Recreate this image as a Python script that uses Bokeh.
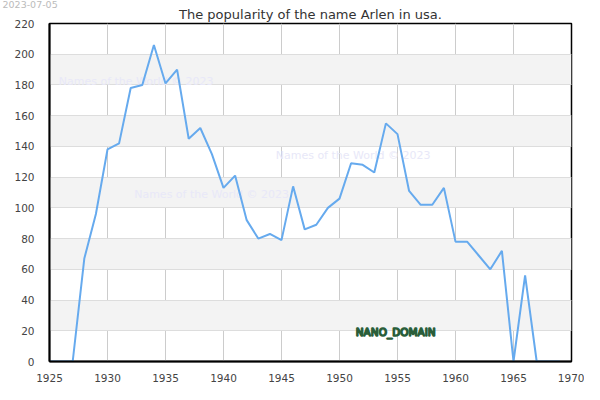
from bokeh.plotting import figure
from bokeh.models import Range1d, FixedTicker, Label, ColumnDataSource, Title
from bokeh.core.properties import value
from bokeh.embed import file_html
from bokeh.resources import INLINE

years = list(range(1925, 1970))
counts = [0, 0, 0, 67, 96, 138, 142, 178, 180, 206,
          181, 190, 145, 152, 135, 113, 121, 92, 80, 83,
          79, 114, 86, 89, 100, 106, 129, 128, 123, 155,
          148, 111, 102, 102, 113, 78, 78, 69, 60, 72,
          0, 56, 0, 0, 0]
x_ticks = [1925, 1930, 1935, 1940, 1945, 1950, 1955, 1960, 1965, 1970]
y_ticks = [0, 20, 40, 60, 80, 100, 120, 140, 160, 180, 200, 220]
title_text = "The popularity of the name Arlen in usa."
date_text = "2023-07-05"
watermark = "Names of the World © 2023"
wm_x = [1925.8, 1944.5, 1932.3]
wm_y = [182, 134, 109]
domain_text = "NANO_DOMAIN"

FONT = "DejaVu Sans"
BL, BR, BT, BB = 49, 13, 23, 20
W, H = 584, 384

p = figure(width=W, height=H, output_backend="svg", toolbar_location=None,
           x_range=Range1d(1925, 1970), y_range=Range1d(0, 220),
           min_border_left=BL, min_border_right=BR, min_border_top=BT, min_border_bottom=BB)
p.background_fill_color = "white"
p.border_fill_color = "white"
p.outline_line_color = "black"
p.outline_line_width = 1.5

p.add_layout(Title(text=title_text, text_font=FONT, text_font_size="13px",
                   text_font_style="normal", text_color="#333333",
                   align="center", offset=-11, standoff=4), "above")
p.add_layout(Title(text=date_text, text_font=FONT, text_font_size="9.5px",
                   text_font_style="normal", text_color="#bbbbbb",
                   align="left", offset=-47, standoff=-10), "above")

for ax in (p.xaxis[0], p.yaxis[0]):
    ax.major_tick_line_color = None
    ax.minor_tick_line_color = None
    ax.axis_line_color = "black"
    ax.axis_line_width = 2
    ax.major_label_text_font = FONT
    ax.major_label_text_font_size = "10.5px"
    ax.major_label_text_color = "#444444"
p.xaxis[0].ticker = FixedTicker(ticks=x_ticks)
p.yaxis[0].ticker = FixedTicker(ticks=y_ticks)
p.xaxis[0].major_label_standoff = 6
p.yaxis[0].major_label_standoff = 9

p.xgrid.ticker = FixedTicker(ticks=x_ticks)
p.ygrid.ticker = FixedTicker(ticks=y_ticks)
p.xgrid.grid_line_color = "#cccccc"
p.ygrid.grid_line_color = "#dddddd"
p.ygrid.band_fill_color = "#f3f3f3"
p.ygrid.band_fill_alpha = 1.0

# watermarks
wm_src = ColumnDataSource(dict(x=wm_x, y=wm_y, t=[watermark] * len(wm_x)))
p.text(x="x", y="y", text="t", source=wm_src, text_font=value(FONT),
       text_font_size="11px", text_color="#e8e8f8", text_baseline="middle")

src = ColumnDataSource(dict(x=years, y=counts))
p.line(x="x", y="y", source=src, line_color="#66aaee", line_width=2)

p.add_layout(Label(x=1951.4, y=19, text=domain_text, text_font=FONT,
                   text_font_size="10.5px",
                   text_color="#b0e0bc", text_outline_color="#2a5e3a",
                   text_baseline="middle"))

open("out.html", "w").write(file_html(p, INLINE))
